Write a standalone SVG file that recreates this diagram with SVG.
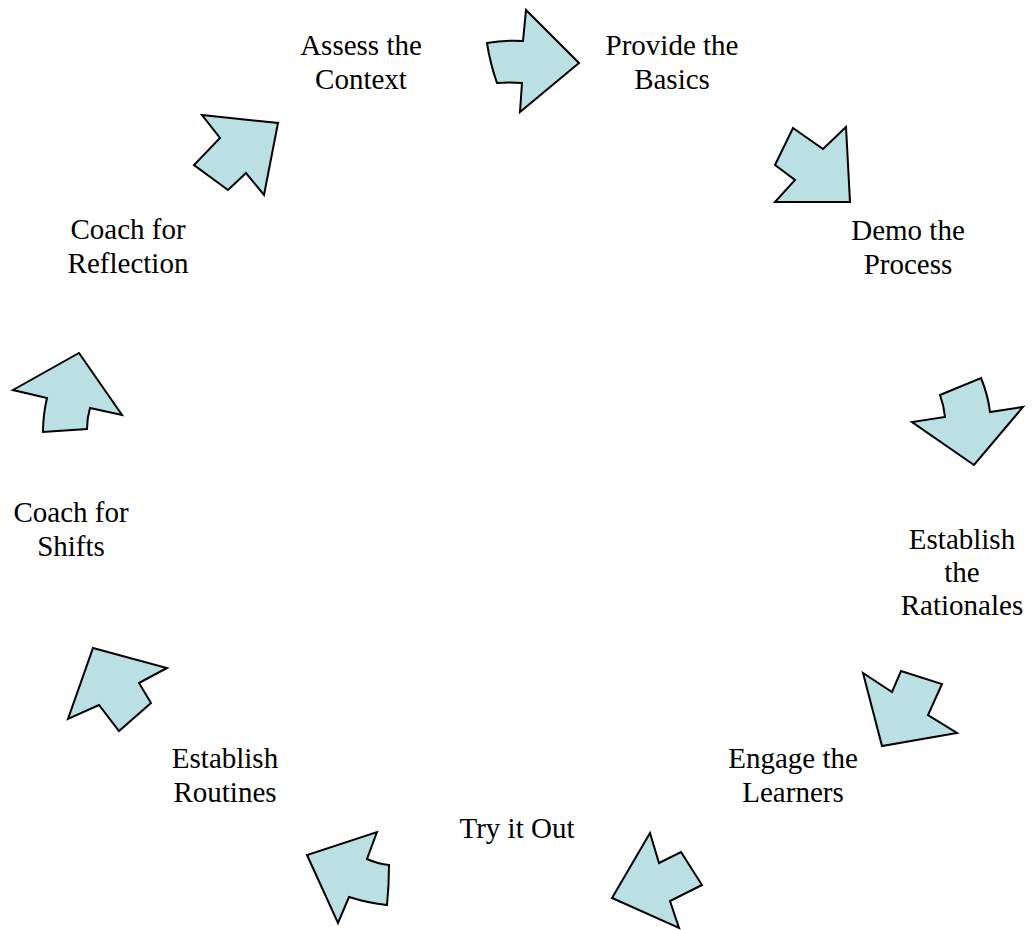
<svg xmlns="http://www.w3.org/2000/svg" width="1033" height="930" viewBox="0 0 1033 930">
<style>
.a{fill:#BBE0E3;stroke:#000;stroke-width:2;stroke-linejoin:miter}
.t{font-family:"Liberation Serif","Times New Roman",serif;font-size:29px;fill:#000;text-anchor:middle}
</style>
<rect width="1033" height="930" fill="#fff"/>
<g id="connectors">
<path class="a" d="M487,43 Q505,40 523,41 L526,10 L579,63 L520,112 L522,83 Q509,82 497,83 Q490,63 487,43 Z"/>
<polygon class="a" points="793,128 823,149 846,127 850,202 775,202 795,180 775,165"/>
<path class="a" d="M940,395 L981,378 Q988,395 990,412 L1023,407 L974,465 L912,422 L945,417 Q944,406 940,395 Z"/>
<polygon class="a" points="863,673 892,692 901,671 942,684 928,715 957,733 882,746"/>
<polygon class="a" points="650,833 659,863 681,852 702,885 670,901 679,928 612,898"/>
<path class="a" d="M377,832 L367,859 Q378,864 389,865 Q389,885 387,905 Q368,903 349,897 L338,923 L307,855 Z"/>
<polygon class="a" points="93,648 167,668 139,683 151,703 119,731 99,705 68,719"/>
<path class="a" d="M79,353 L122,415 L90,408 Q87,418 87,429 L43,432 Q43,415 47,398 L13,390 Z"/>
<polygon class="a" points="202,115 278,123 264,195 246,173 228,190 194,165 220,138"/>
</g>
<g id="n1"><text class="t" x="361" y="55">Assess the</text><text class="t" x="361" y="89">Context</text></g>
<g id="n2"><text class="t" x="672" y="55">Provide the</text><text class="t" x="672" y="89">Basics</text></g>
<g id="n3"><text class="t" x="908" y="240">Demo the</text><text class="t" x="908" y="274">Process</text></g>
<g id="n4"><text class="t" x="962" y="549">Establish</text><text class="t" x="962" y="582">the</text><text class="t" x="962" y="615">Rationales</text></g>
<g id="n5"><text class="t" x="793" y="768">Engage the</text><text class="t" x="793" y="802">Learners</text></g>
<g id="n6"><text class="t" x="517" y="838">Try it Out</text></g>
<g id="n7"><text class="t" x="225" y="768">Establish</text><text class="t" x="225" y="802">Routines</text></g>
<g id="n8"><text class="t" x="71" y="522">Coach for</text><text class="t" x="71" y="556">Shifts</text></g>
<g id="n9"><text class="t" x="128" y="239">Coach for</text><text class="t" x="128" y="273">Reflection</text></g>
</svg>
